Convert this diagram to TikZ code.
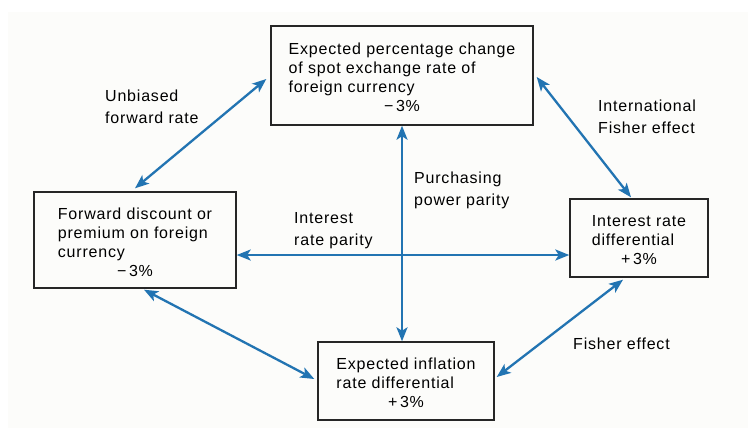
\documentclass[tikz,border=0pt]{standalone}
\usepackage{fontspec}
\setmainfont{Liberation Sans}[LetterSpace=5]
\usetikzlibrary{arrows.meta,calc}
\definecolor{arrowblue}{RGB}{34,116,178}
\definecolor{bgcol}{RGB}{252,252,250}
\begin{document}
\begin{tikzpicture}[x=1pt,y=-1pt,
  box/.style={draw=black!85, line width=1.4pt, rectangle, inner sep=0pt},
  boxtext/.style={inner sep=0pt, font=\fontsize{16}{19}\selectfont},
  lbl/.style={anchor=north west, inner sep=0pt, align=left, font=\fontsize{16}{22}\selectfont},
  tipb/.style={Stealth[length=14pt,width=11pt,inset=3.5pt]},
  link/.style={draw=arrowblue, line width=2.3pt, {Stealth[length=14pt,width=11pt,inset=3.5pt]}-{Stealth[length=14pt,width=11pt,inset=3.5pt]}}]
\useasboundingbox (0,0) rectangle (755,434);
\fill[bgcol] (8,12) rectangle (748,428);
\node[box, minimum width=262pt, minimum height=99pt] (top) at (402,75.5) {};
\node[boxtext] (topt) at ($(top.center)+(0,4)$)
  {\begin{tabular}{@{}l@{}}Expected percentage change\\ of spot exchange rate of\\ foreign currency\\ \multicolumn{1}{@{}c@{}}{−\,3\%}\end{tabular}};
\node[box, minimum width=202pt, minimum height=96pt] (left) at (135,240) {};
\node[boxtext] (leftt) at ($(left.center)+(0,4)$)
  {\begin{tabular}{@{}l@{}}Forward discount or\\ premium on foreign\\ currency\\ \multicolumn{1}{@{}c@{}}{−\,3\%}\end{tabular}};
\node[box, minimum width=138pt, minimum height=78pt] (right) at (639,238) {};
\node[boxtext] (rightt) at ($(right.center)+(0,4)$)
  {\begin{tabular}{@{}l@{}}Interest rate\\ differential\\ \multicolumn{1}{@{}c@{}}{+\,3\%}\end{tabular}};
\node[box, minimum width=176pt, minimum height=78pt] (bottom) at (406,381) {};
\node[boxtext] (bottomt) at ($(bottom.center)+(0,4)$)
  {\begin{tabular}{@{}l@{}}Expected inflation\\ rate differential\\ \multicolumn{1}{@{}c@{}}{+\,3\%}\end{tabular}};
\node[lbl] (lub) at (105,90) {Unbiased\\forward rate};
\node[lbl] (lifx) at (598,100) {International\\Fisher effect};
\node[lbl] (lppp) at (414,172) {Purchasing\\power parity};
\node[lbl] (lirp) at (294,212) {Interest\\rate parity};
\node[lbl] (lfe) at (573,338) {Fisher effect};
\coordinate (hl) at (0,255);
\draw[link] (top.south) -- (top.south |- bottom.north);
\draw[link] (left.east |- hl) -- (right.west |- hl);
\draw[link] ($(top.west)+(-4,3.5)$) -- ($(left.north)+(0,-3)$);
\draw[link] ($(top.east)+(3,1.5)$) -- ($(right.north)+(-8,-1)$);
\draw[link] ($(left.south)+(9,1)$) -- ($(bottom.west)+(-3,-2)$);
\draw[link] ($(bottom.east)+(2,-4)$) -- ($(right.south)+(-16,2)$);
\end{tikzpicture}
\end{document}
